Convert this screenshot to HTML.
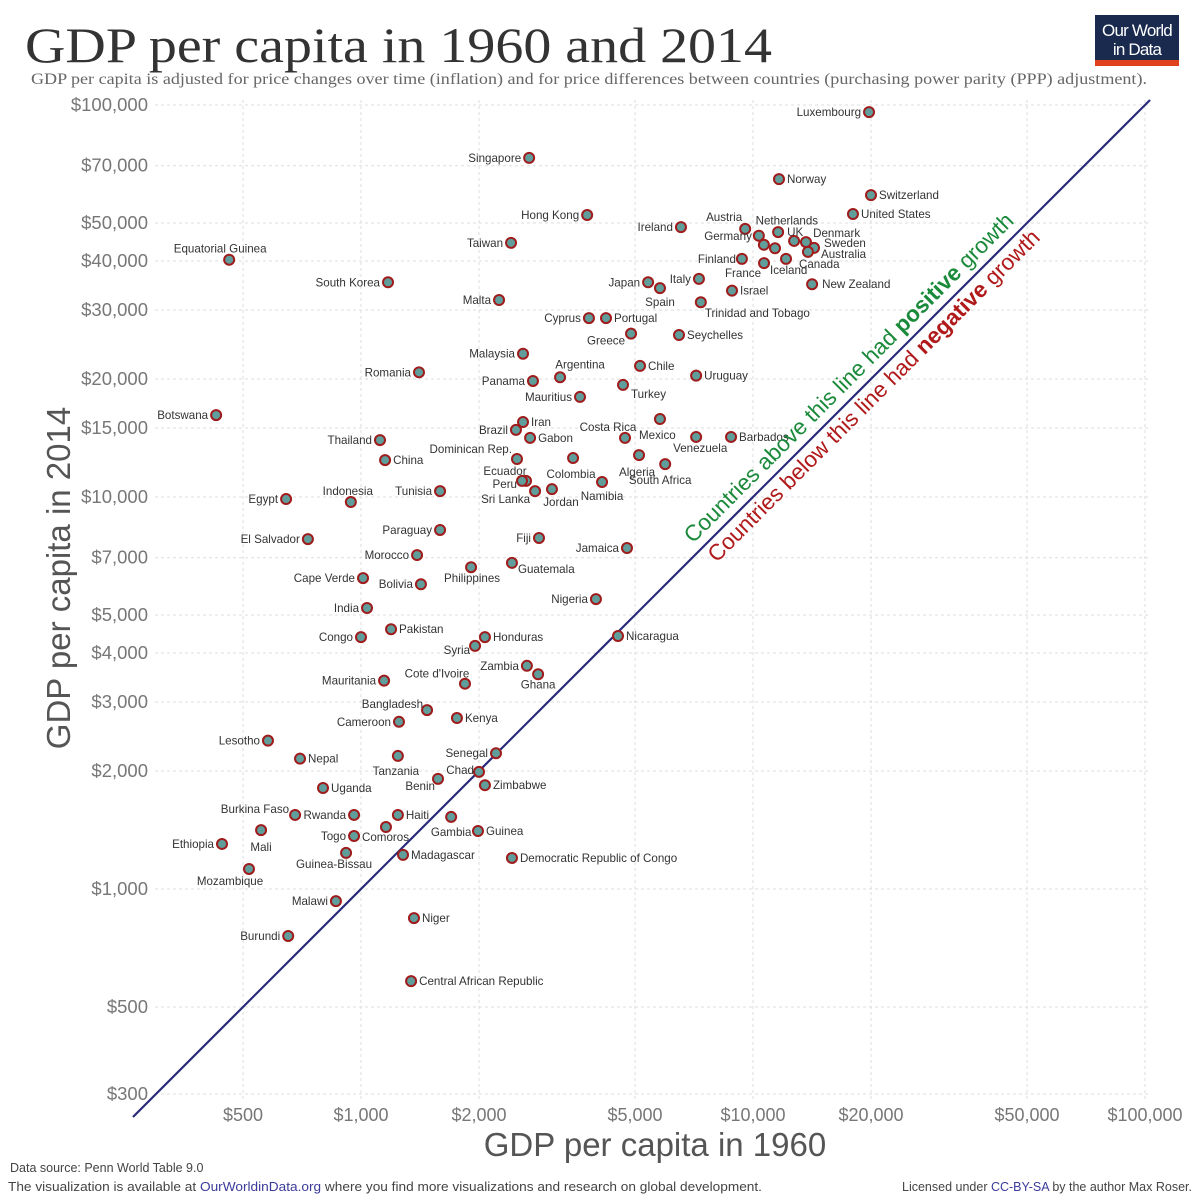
<!DOCTYPE html>
<html><head><meta charset="utf-8">
<style>
body{margin:0;background:#fff;width:1200px;height:1200px;overflow:hidden;font-family:"Liberation Sans",sans-serif}
svg{display:block}
</style></head>
<body>
<svg id="chart" width="1200" height="1200" viewBox="0 0 1200 1200">
<text x="25" y="62" font-family="Liberation Serif, serif" font-size="50" fill="#333" textLength="747" lengthAdjust="spacingAndGlyphs">GDP per capita in 1960 and 2014</text>
<text x="31" y="84" font-family="Liberation Serif, serif" font-size="16" fill="#666" textLength="1116" lengthAdjust="spacingAndGlyphs">GDP per capita is adjusted for price changes over time (inflation) and for price differences between countries (purchasing power parity (PPP) adjustment).</text>
<g>
<rect x="1095" y="15" width="84" height="47" fill="#1a2a4e"/>
<rect x="1095" y="60" width="84" height="6" fill="#e0401c"/>
<text x="1137" y="36" text-anchor="middle" font-size="17" fill="#fff" letter-spacing="-0.8">Our World</text>
<text x="1137" y="55" text-anchor="middle" font-size="17" fill="#fff" letter-spacing="-0.8">in Data</text>
</g>
<g id="grid"></g>
<g id="axes"></g>
<line id="diag" stroke="#2a2a7a" stroke-width="2.2"/>
<g id="points"></g>
<text transform="translate(854,383) rotate(-45)" text-anchor="middle" font-size="22.5" fill="#1a8a3a">Countries above this line had <tspan font-weight="bold">positive</tspan> growth</text>
<text transform="translate(879,401) rotate(-45)" text-anchor="middle" font-size="22.5" fill="#b01a1a">Countries below this line had <tspan font-weight="bold">negative</tspan> growth</text>
<text transform="translate(70,578) rotate(-90)" text-anchor="middle" font-size="33" fill="#555">GDP per capita in 2014</text>
<text x="655" y="1156" text-anchor="middle" font-size="33" fill="#555">GDP per capita in 1960</text>
<text x="10" y="1172" font-size="12.5" fill="#444">Data source: Penn World Table 9.0</text>
<text x="8" y="1191" font-size="12.5" fill="#444" textLength="754" lengthAdjust="spacingAndGlyphs">The visualization is available at <tspan fill="#3b3b9b">OurWorldinData.org</tspan> where you find more visualizations and research on global development.</text>
<text x="1192" y="1191" text-anchor="end" font-size="12.5" fill="#444">Licensed under <tspan fill="#3b3b9b">CC-BY-SA</tspan> by the author Max Roser.</text>
</svg>
<script>
const xTicks=[500,1000,2000,5000,10000,20000,50000,100000];
const yTicks=[300,500,1000,2000,3000,4000,5000,7000,10000,15000,20000,30000,40000,50000,70000,100000];
const countries=["Luxembourg","Singapore","Norway","Switzerland","United States","Hong Kong","Ireland","Austria","Netherlands","Germany","Belgium","UK","Denmark","Sweden","Australia","Canada","Iceland","France","Finland","New Zealand","Israel","Trinidad and Tobago","Italy","Taiwan","Equatorial Guinea","South Korea","Japan","Spain","Malta","Cyprus","Portugal","Greece","Seychelles","Malaysia","Chile","Argentina","Uruguay","Romania","Panama","Turkey","Mauritius","Botswana","Mexico","Iran","Brazil","Gabon","Costa Rica","Venezuela","Barbados","Thailand","China","Dominican Rep.","Colombia","Algeria","South Africa","Ecuador","Peru","Namibia","Sri Lanka","Jordan","Egypt","Indonesia","Tunisia","Paraguay","Fiji","El Salvador","Jamaica","Morocco","Philippines","Guatemala","Cape Verde","Bolivia","Nigeria","India","Pakistan","Congo","Honduras","Nicaragua","Syria","Zambia","Ghana","Mauritania","Cote d'Ivoire","Bangladesh","Kenya","Cameroon","Lesotho","Senegal","Nepal","Tanzania","Chad","Benin","Zimbabwe","Uganda","Burkina Faso","Rwanda","Haiti","Gambia","Mali","Comoros","Togo","Guinea","Ethiopia","Guinea-Bissau","Madagascar","Democratic Republic of Congo","Mozambique","Malawi","Niger","Burundi","Central African Republic"];
const gdp1960=[19770,2685,11650,20000,17990,3775,6550,9550,10350,10660,11380,11590,12730,13650,14310,13810,12140,10670,9370,14150,8840,7360,7280,2414,461,1172,5400,5790,2250,3815,4217,4885,6475,2590,5150,3220,7160,1406,2746,4660,3620,427,5790,2590,2485,2700,4715,7160,8790,1118,1152,2500,3475,5120,5970,2636,2575,4120,2780,3070,644,942,1591,1591,2845,732,4770,1390,1909,2427,1012,1422,3975,1036,1193,1000,2071,4525,1954,2650,2830,1145,1842,1474,1757,1250,579,2210,699,1242,2000,1572,2071,800,679,960,1242,1698,556,1158,960,1988,442,916,1280,2427,518,863,1365,652,1342];
const gdp2014=[95900,73300,64700,58900,52700,52400,48800,48300,46400,44000,43100,47400,45000,44700,43200,42200,40500,39500,40500,34900,33600,31400,36000,44500,40300,35300,35300,34100,31800,28600,28600,26100,25900,23200,21600,20200,20400,20800,19770,19320,18000,16180,15810,15530,14830,14150,14150,14230,14230,13970,12420,12500,12570,12790,12130,10990,10990,10920,10350,10470,9880,9710,10350,8240,7860,7810,7410,7110,6620,6790,6210,5990,5490,5210,4600,4390,4390,4420,4170,3710,3530,3400,3340,2860,2730,2670,2390,2220,2150,2185,1990,1910,1840,1810,1545,1545,1545,1527,1413,1439,1365,1406,1303,1236,1222,1200,1125,931,843,759,582];
// label placement (layout only): [dx, dy, anchor]
const L='l',R='r';
const labelPos=[L,L,R,R,R,L,L,[-3,-8,'end'],[28,-11,'middle'],[-12,-5,'end'],null,[9,4,'start'],[19,-4,'start'],[18,5,'start'],[7,10,'start'],[-9,16,'start'],[-16,15,'start'],[-3,14,'end'],[-6,4,'end'],[10,4,'start'],R,[4,15,'start'],L,L,[-9,-7,'middle'],L,L,[0,18,'middle'],L,L,R,[-6,11,'end'],R,L,R,[20,-9,'middle'],R,L,L,[8,13,'start'],L,L,[-21,20,'start'],R,L,R,[-17,-7,'middle'],[-23,15,'start'],R,L,R,[-5,-6,'end'],[-2,20,'middle'],[-2,21,'middle'],[-5,20,'middle'],[-21,-6,'middle'],[-5,7,'end'],[0,18,'middle'],[-5,12,'end'],[9,17,'middle'],L,[-3,-7,'middle'],L,L,L,L,L,L,[1,15,'middle'],[6,10,'start'],L,L,L,L,R,L,R,R,[-5,8,'end'],L,[0,14,'middle'],L,[-28,-6,'middle'],[-4,-2,'end'],R,L,L,L,R,[-2,19,'middle'],[-5,2,'end'],[-3,11,'end'],R,R,[-6,-2,'end'],L,R,[0,19,'middle'],[0,21,'middle'],[-24,14,'start'],L,R,L,[-12,15,'middle'],R,R,[-19,16,'middle'],L,R,L,R];
const NS='http://www.w3.org/2000/svg';
const X0=361,Y0=105,K=392;
function xs(v){return X0+(Math.log10(v)-3)*K;}
function ys(v){return Y0+(5-Math.log10(v))*K;}
function mk(t,a,p){const e=document.createElementNS(NS,t);for(const k in a)e.setAttribute(k,a[k]);p.appendChild(e);return e;}
const grid=document.getElementById('grid'),axes=document.getElementById('axes'),pts=document.getElementById('points');
const fmt=v=>'$'+v.toLocaleString('en-US');
xTicks.forEach(v=>{
  const g=mk('line',{x1:xs(v),x2:xs(v),y1:100,y2:1100,stroke:'#ddd','stroke-dasharray':'3,3'},grid);
  
  
  const t=mk('text',{x:xs(v),y:1121,'text-anchor':'middle','font-size':18,fill:'#777'},axes);
  t.textContent=fmt(v);
  
  
});
yTicks.forEach(v=>{
  const g=mk('line',{x1:155,x2:1150,y1:ys(v),y2:ys(v),stroke:'#ddd','stroke-dasharray':'3,3'},grid);
  
  
  const t=mk('text',{x:148,y:ys(v)+6,'text-anchor':'end','font-size':18.5,fill:'#777'},axes);
  t.textContent=fmt(v);
  
  
});
const d=document.getElementById('diag');
d.setAttribute('x1',xs(262));d.setAttribute('y1',ys(262));d.setAttribute('x2',xs(103000));d.setAttribute('y2',ys(103000));
countries.forEach((n,i)=>{
  const cx=xs(gdp1960[i]),cy=ys(gdp2014[i]);
  const c=mk('circle',{cx:cx,cy:cy,r:5,fill:'#5f9e9b',stroke:'#a01c1c','stroke-width':2},pts);
  
  
  let p=labelPos[i];
  if(!p)return;
  if(p===L)p=[-8,4,'end'];else if(p===R)p=[8,4,'start'];
  const t=mk('text',{x:cx+p[0],y:cy+p[1],'text-anchor':p[2],'font-size':11.6,fill:'#333'},pts);
  t.textContent=n;
  
  
});
</script>
</body></html>
